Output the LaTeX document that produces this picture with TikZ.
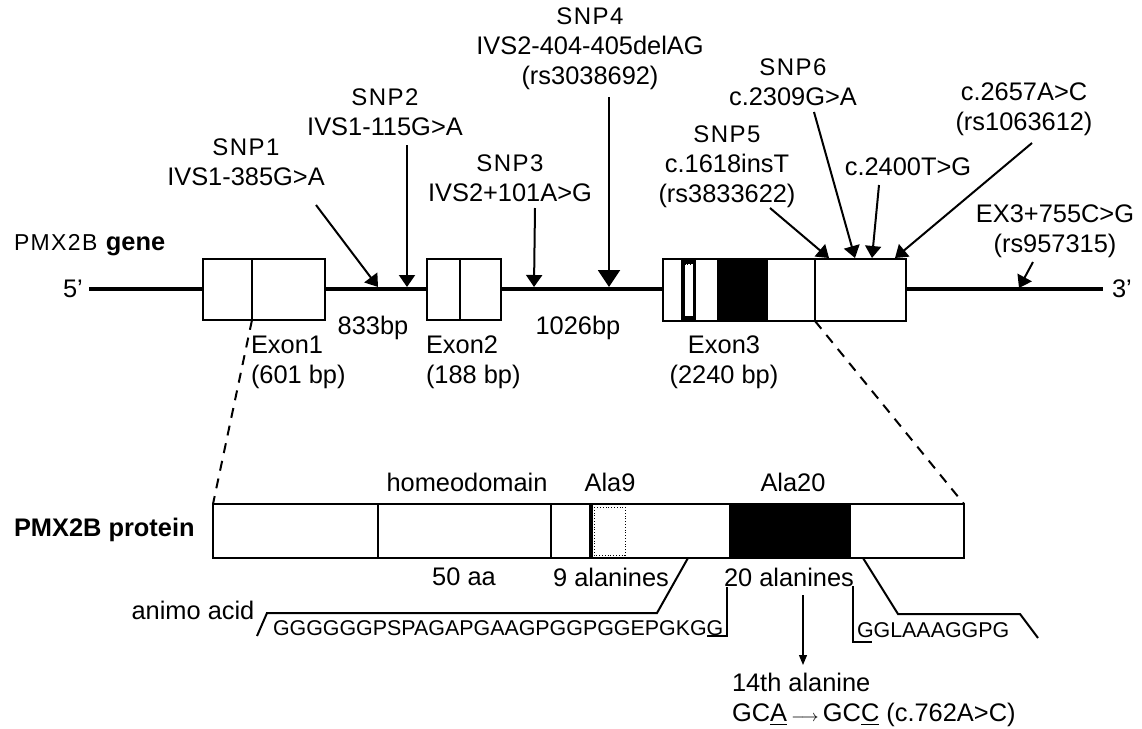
\documentclass[tikz,border=0pt]{standalone}
\usepackage{fontspec}
\setmainfont{Liberation Sans}
\newfontfamily\spaced[LetterSpace=6]{Liberation Sans}
\usetikzlibrary{arrows.meta}
\newcommand{\snpname}[1]{{\spaced\fontsize{12}{15}\selectfont #1}}
\tikzset{
  txt/.style={inner sep=0pt, align=center, font=\fontsize{12.7}{15}\selectfont},
  seqtxt/.style={inner sep=0pt, anchor=west, font=\fontsize{10.7}{13}\selectfont},
  snparrow/.style={-{Triangle[length=6pt,width=8pt]}, line width=1pt},
  exonbox/.style={draw, fill=white, line width=1.2pt},
  zoomline/.style={line width=1pt, dash pattern=on 5pt off 4pt},
}
\begin{document}
\begin{tikzpicture}[x=0.5pt, y=-0.5pt, line width=1pt]
\useasboundingbox (0,0) rectangle (1142,729);

% gene
\coordinate (g0) at (89,289);
\coordinate (g1) at (1103,289);
\draw[line width=1.7pt] (g0) -- (g1);
\node[txt, anchor=west] (gene) at (13,245) {{\spaced\fontsize{11.5}{15}\selectfont PMX2B} \textbf{gene}};
\node[txt] (five) at (73,289) {5'};
\node[txt] (three) at (1122,289) {3'};

\draw[exonbox] (203,259) rectangle (325,320);
\draw[line width=1pt] (252,259) -- (252,320);
\draw[exonbox] (427,259) rectangle (501,320);
\draw[line width=1pt] (460,259) -- (460,320);
\draw[exonbox] (663,259) rectangle (906,321);
\fill (681,259) rectangle (696,321);
\fill[white] (684.5,264) rectangle (693,316);
\draw[densely dotted, thin] (684.5,264) rectangle (693,316);
\fill (717,259) rectangle (768,321);
\draw[line width=1pt] (815,259) -- (815,321);

\node[txt, anchor=west, align=left] (ex1) at (250,362) {Exon1\\(601 bp)};
\node[txt, anchor=west, align=left] (ex2) at (425,362) {Exon2\\(188 bp)};
\node[txt] (ex3) at (724,362) {Exon3\\(2240 bp)};
\node[txt] (intr1) at (373,328) {833bp};
\node[txt] (intr2) at (578,328) {1026bp};

% SNP labels
\node[txt] (snp1) at (246,162) {\snpname{SNP1}\\IVS1-385G>A};
\node[txt] (snp2) at (385,112) {\snpname{SNP2}\\IVS1-115G>A};
\node[txt] (snp3) at (510,178) {\snpname{SNP3}\\IVS2+101A>G};
\node[txt] (snp4) at (590,49) {\snpname{SNP4}\\IVS2-404-405delAG\\(rs3038692)};
\node[txt] (snp5) at (727,167) {\snpname{SNP5}\\c.1618insT\\(rs3833622)};
\node[txt] (snp6) at (793,82) {\snpname{SNP6}\\c.2309G>A};
\node[txt] (var1) at (908,167) {c.2400T>G};
\node[txt] (var2) at (1024,109) {c.2657A>C\\(rs1063612)};
\node[txt] (var3) at (1055,231) {EX3+755C>G\\(rs957315)};

\coordinate (a1) at (316,205);  \coordinate (h1) at (378,287);
\coordinate (a2) at (407,145);  \coordinate (h2) at (407,287);
\coordinate (a3) at (535,208);  \coordinate (h3) at (534,287);
\coordinate (a4) at (609,97);   \coordinate (h4) at (609,287);
\coordinate (a5) at (770,208);  \coordinate (h5) at (829,258);
\coordinate (a6) at (814,112);  \coordinate (h6) at (855,258);
\coordinate (a7) at (879,185);  \coordinate (h7) at (872,258);
\coordinate (a8) at (1032,143); \coordinate (h8) at (895,258);
\coordinate (a9) at (1033,262); \coordinate (h9) at (1019,288);
\draw[snparrow] (a1) -- (h1);
\draw[snparrow] (a2) -- (h2);
\draw[snparrow] (a3) -- (h3);
\draw[-{Triangle[length=8.5pt,width=11pt]}] (a4) -- (h4);
\draw[snparrow] (a5) -- (h5);
\draw[snparrow] (a6) -- (h6);
\draw[snparrow] (a7) -- (h7);
\draw[snparrow] (a8) -- (h8);
\draw[snparrow] (a9) -- (h9);

% protein
\node[txt, anchor=west, font=\bfseries\fontsize{12.7}{15}\selectfont] (prot) at (13,530) {PMX2B protein};
\draw[exonbox] (213,504) rectangle (964,558);
\draw[line width=1pt] (378,504) -- (378,558);
\draw[line width=1pt] (551,504) -- (551,558);
\draw[line width=2pt] (591,504) -- (591,558);
\draw[densely dotted, thin] (594,507) rectangle (625,555);
\fill (729,504) rectangle (851,558);

\coordinate (z1a) at (252,320); \coordinate (z1b) at (213,504);
\coordinate (z2a) at (815,321); \coordinate (z2b) at (964,504);
\draw[zoomline] (z1a) -- (z1b);
\draw[zoomline] (z2a) -- (z2b);

\node[txt] (hd) at (467,482) {homeodomain};
\node[txt] (ala9) at (610,482) {Ala9};
\node[txt] (ala20) at (793,482) {Ala20};
\node[txt] (aa50) at (464,577) {50 aa};
\node[txt] (n9) at (611,577) {9 alanines};
\node[txt] (n20) at (789,577) {20 alanines};
\node[txt] (amino) at (193,610) {animo acid};

\node[seqtxt] (seq1) at (272,628) {GGGGGGPSPAGAPGAAGPGGPGGEPGKGG};
\node[seqtxt] (seq2) at (856,630) {GGLAAAGGPG};
\draw (688,558) -- (657,613) -- (267,613) -- (257,636);
\draw (727,587) -- (727,636) -- (707,636);
\draw (853,586) -- (853,642) -- (872,642);
\draw (863,558) -- (898,614) -- (1020,614) -- (1038,638);

\coordinate (m0) at (803,595); \coordinate (m1) at (803,665);
\draw[-{Triangle[length=5pt,width=4pt]}, line width=0.6pt] (m0) -- (m1);
\node[txt, anchor=west, align=left] (mut) at (731,700) {14th alanine\\GC\underline{A}\,{\footnotesize$\longrightarrow$}\,GC\underline{C} (c.762A>C)};
\end{tikzpicture}
\end{document}
